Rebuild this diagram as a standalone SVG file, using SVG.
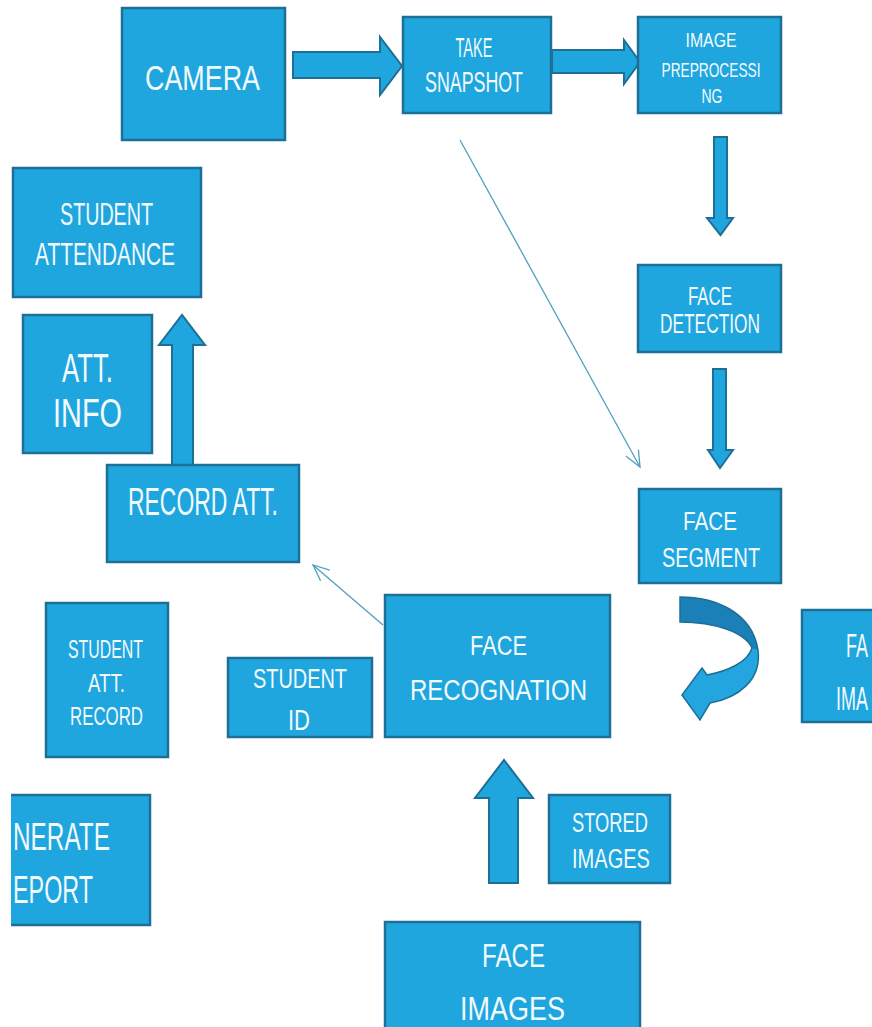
<svg xmlns="http://www.w3.org/2000/svg" width="872" height="1027" viewBox="0 0 872 1027">
<style>
.box{fill:#1fa6df;stroke:#1d6f96;stroke-width:2.5}
.blk{fill:#1fa6df;stroke:#1d6f96;stroke-width:2;stroke-linejoin:miter}
.t{font-family:"Liberation Sans",Arial,sans-serif;fill:#f2fafe;text-anchor:middle}
.thin{fill:none;stroke:#4f9fbf;stroke-width:1.3}
</style>
<defs>
<marker id="open" markerUnits="userSpaceOnUse" markerWidth="20" markerHeight="20" viewBox="0 0 20 20" refX="18" refY="10" orient="auto">
<path d="M2,3 L18,10 L2,17" fill="none" stroke="#4f9fbf" stroke-width="1.3"/>
</marker>
</defs>
<rect width="872" height="1027" fill="#ffffff"/>

<g id="connectors">
<path class="blk" d="M293,52 H380 V37 L402,66 L380,95 V78 H293 Z"/>
<path class="blk" d="M552,50 H624 V40 L640,62 L624,84 V73 H552 Z"/>
<path class="blk" d="M714,137 H727 V218 H733 L720.5,235 L707,218 H714 Z"/>
<path class="blk" d="M713,369 H726 V450 H733 L720,468 L708,450 H713 Z"/>
<path class="blk" d="M172,465 V345 H159 L182,315 L205,345 H193 V465 Z"/>
<path class="blk" d="M489,883 V798 H475 L504,760 L533,798 H518 V883 Z"/>
<path d="M680,597 C715,597 752,612 758,650 C762,680 738,698 710,703 L700,720 L682,695 L702,668 L707,675 C728,671 748,662 752,648 C745,632 714,622 680,622 Z" fill="#23a6e0"/>
<path d="M680,597 C715,597 752,612 758,650 L752,648 C745,632 714,622 680,622 Z" fill="#1b80b8"/>
<path d="M680,597 C715,597 752,612 758,650 C762,680 738,698 710,703 L700,720 L682,695 L702,668 L707,675 C728,671 748,662 752,648 C745,632 714,622 680,622 Z" fill="none" stroke="#1d6f96" stroke-width="1.5"/>
<line class="thin" x1="460" y1="140" x2="640" y2="467" marker-end="url(#open)"/>
<line class="thin" x1="383" y1="625" x2="313" y2="565" marker-end="url(#open)"/>
</g>

<g id="camera">
<rect class="box" x="122" y="8" width="163" height="132"/>
<text class="t" x="202.5" y="90" font-size="35" textLength="115" lengthAdjust="spacingAndGlyphs">CAMERA</text>
</g>
<g id="take-snapshot">
<rect class="box" x="403" y="17" width="148" height="96"/>
<text class="t" x="474" y="57" font-size="28" textLength="37" lengthAdjust="spacingAndGlyphs">TAKE</text>
<text class="t" x="474" y="92" font-size="30" textLength="98" lengthAdjust="spacingAndGlyphs">SNAPSHOT</text>
</g>
<g id="image-preprocessing">
<rect class="box" x="638" y="17" width="143" height="96"/>
<text class="t" x="711" y="47" font-size="21" textLength="51" lengthAdjust="spacingAndGlyphs">IMAGE</text>
<text class="t" x="711" y="77" font-size="21" textLength="99" lengthAdjust="spacingAndGlyphs">PREPROCESSI</text>
<text class="t" x="712" y="103" font-size="21" textLength="21" lengthAdjust="spacingAndGlyphs">NG</text>
</g>
<g id="face-detection">
<rect class="box" x="638" y="265" width="143" height="87"/>
<text class="t" x="710" y="305" font-size="26" textLength="44" lengthAdjust="spacingAndGlyphs">FACE</text>
<text class="t" x="710" y="333" font-size="27" textLength="100" lengthAdjust="spacingAndGlyphs">DETECTION</text>
</g>
<g id="face-segment">
<rect class="box" x="639" y="489" width="142" height="94"/>
<text class="t" x="710" y="530" font-size="26" textLength="54" lengthAdjust="spacingAndGlyphs">FACE</text>
<text class="t" x="711" y="567" font-size="27" textLength="98" lengthAdjust="spacingAndGlyphs">SEGMENT</text>
</g>
<g id="face-images-right">
<rect x="802" y="610" width="70" height="112" fill="#1fa6df"/>
<path d="M872,610 H802 V722 H872" fill="none" stroke="#1d6f96" stroke-width="2.5"/>
<text class="t" x="846" y="657" font-size="34" textLength="22" lengthAdjust="spacingAndGlyphs" style="text-anchor:start">FA</text>
<text class="t" x="836" y="710" font-size="34" textLength="32" lengthAdjust="spacingAndGlyphs" style="text-anchor:start">IMA</text>
</g>
<g id="student-attendance">
<rect class="box" x="13" y="168" width="188" height="129"/>
<text class="t" x="106.5" y="225" font-size="31" textLength="93" lengthAdjust="spacingAndGlyphs">STUDENT</text>
<text class="t" x="105" y="265" font-size="32" textLength="140" lengthAdjust="spacingAndGlyphs">ATTENDANCE</text>
</g>
<g id="att-info">
<rect class="box" x="23" y="315" width="129" height="138"/>
<text class="t" x="87.5" y="382" font-size="40" textLength="51" lengthAdjust="spacingAndGlyphs">ATT.</text>
<text class="t" x="87.5" y="427" font-size="40" textLength="69" lengthAdjust="spacingAndGlyphs">INFO</text>
</g>
<g id="record-att">
<rect class="box" x="107" y="465" width="192" height="97"/>
<text class="t" x="203" y="515" font-size="38" textLength="150" lengthAdjust="spacingAndGlyphs">RECORD ATT.</text>
</g>
<g id="student-att-record">
<rect class="box" x="46" y="603" width="122" height="154"/>
<text class="t" x="105.5" y="658" font-size="25" textLength="75" lengthAdjust="spacingAndGlyphs">STUDENT</text>
<text class="t" x="106.5" y="692" font-size="25" textLength="37" lengthAdjust="spacingAndGlyphs">ATT.</text>
<text class="t" x="106.5" y="725" font-size="25" textLength="73" lengthAdjust="spacingAndGlyphs">RECORD</text>
</g>
<g id="student-id">
<rect class="box" x="228" y="658" width="144" height="79"/>
<text class="t" x="300" y="688" font-size="28" textLength="94" lengthAdjust="spacingAndGlyphs">STUDENT</text>
<text class="t" x="299" y="730" font-size="30" textLength="22" lengthAdjust="spacingAndGlyphs">ID</text>
</g>
<g id="generate-report">
<rect x="11" y="795" width="139" height="130" fill="#1fa6df"/>
<path d="M11,795 H150 V925 H11" fill="none" stroke="#1d6f96" stroke-width="2.5"/>
<text class="t" x="13" y="850" font-size="38" textLength="97" lengthAdjust="spacingAndGlyphs" style="text-anchor:start">NERATE</text>
<text class="t" x="13" y="903" font-size="38" textLength="80" lengthAdjust="spacingAndGlyphs" style="text-anchor:start">EPORT</text>
</g>
<g id="face-recognation">
<rect class="box" x="385" y="595" width="225" height="142"/>
<text class="t" x="498.5" y="655" font-size="28" textLength="57" lengthAdjust="spacingAndGlyphs">FACE</text>
<text class="t" x="498.5" y="700" font-size="30" textLength="177" lengthAdjust="spacingAndGlyphs">RECOGNATION</text>
</g>
<g id="stored-images">
<rect class="box" x="549" y="795" width="121" height="88"/>
<text class="t" x="610" y="832" font-size="27" textLength="76" lengthAdjust="spacingAndGlyphs">STORED</text>
<text class="t" x="611" y="868" font-size="27" textLength="78" lengthAdjust="spacingAndGlyphs">IMAGES</text>
</g>
<g id="face-images">
<rect class="box" x="385" y="922" width="255" height="120"/>
<text class="t" x="513.5" y="967" font-size="34" textLength="63" lengthAdjust="spacingAndGlyphs">FACE</text>
<text class="t" x="512.5" y="1020" font-size="33" textLength="105" lengthAdjust="spacingAndGlyphs">IMAGES</text>
</g>
</svg>
